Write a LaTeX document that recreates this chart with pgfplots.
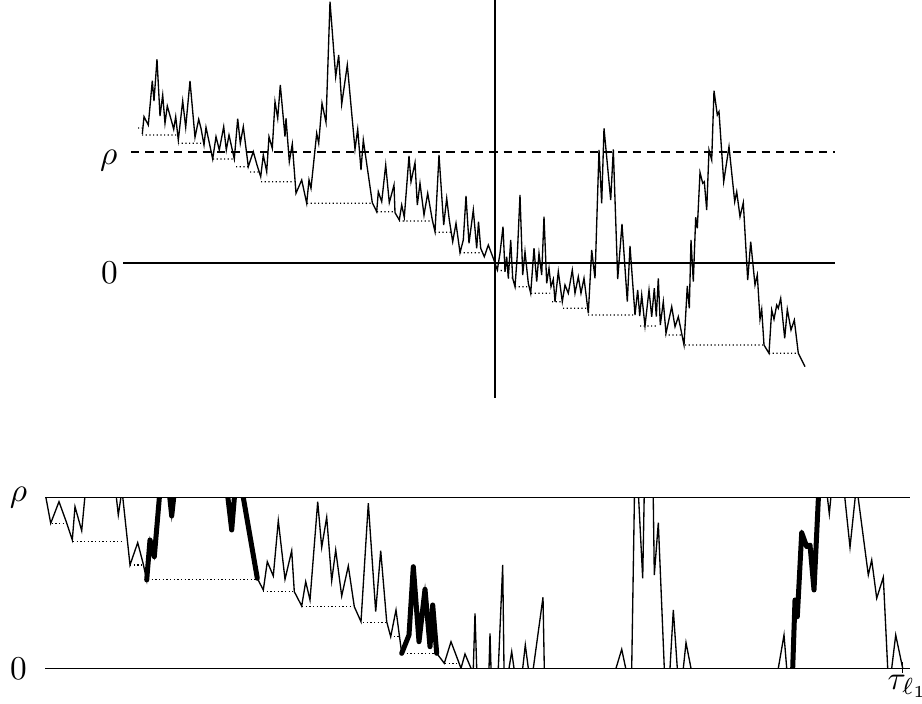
\documentclass[border=0pt]{standalone}
\usepackage{pgfplots}
\pgfplotsset{compat=1.18}

% picture coordinates: 1 unit = 1 pixel of the 922x704 layout, y downwards
\pgfplotsset{
  pix/.style={width=276.6pt, scale only axis, xmin=0, xmax=922,
    y dir=reverse, hide axis, anchor=south west},
  walk/.style={black, line width=0.4pt, line join=miter, no marks},
  refline/.style={black, line width=0.33pt, no marks},
  runmin/.style={black, line width=0.4pt, dash pattern=on 0.35pt off 0.75pt, no marks},
  bold/.style={black, line width=1.5pt, line join=round, line cap=round, no marks},
}

\begin{document}
\begin{tikzpicture}
\useasboundingbox (0,0) rectangle (276.6pt,211.2pt);

% ---------- upper panel (and all labels) ----------
\begin{axis}[pix, height=211.2pt, ymin=0, ymax=704, at={(0,0)}, clip=false,
    unbounded coords=jump]

% reference lines
\addplot[refline] coordinates {(123,263) (835,263)};
\addplot[refline] coordinates {(495,0) (495,398)};
\addplot[refline, dash pattern=on 2.5pt off 1.8pt] coordinates {(131,152) (835,152)};

% the walk
\addplot[walk] coordinates {
(142.3,134)(144,116.7)(148.3,125)(152.3,80.7)(154,101)(157,59.3)(160,116)(162.7,95)
(165,123.3)(167.3,106)(171.7,121.7)(173.7,129.3)(175.7,116.7)(178.3,140)(182.7,101)
(185.7,127.3)(190,81)(195,137.3)(198.7,119.3)(201,128.3)(204,145)(206,127.3)(208.7,140)
(212.7,159)(216,136.7)(219.3,150)(223.7,126.7)(226.3,150)(229,135)(232.3,150)(234.3,159)
(237.7,118.7)(240.3,143.3)(243.3,126.7)(248.3,166.7)(253.3,151.7)(257,165)(260.7,176.7)
(263.3,155)(266.7,171.7)(269,136.7)(272.3,148.3)(275,101.7)(277.7,118.3)(280.3,85)
(285,136.7)(286,118.3)(289.3,161.7)(292.3,144)(296,193.3)(301.7,180)(306.7,203.3)
(309,180)(311,188.3)(316.7,133.3)(318.7,143.3)(322,103.3)(326,122.3)(330,1.7)
(335.7,76.7)(338.7,55)(341.7,104.3)(347.3,65)(355,149.3)(357.7,129.3)(361,170)
(363.3,140)(372.3,202.7)(376.7,211.7)(378.3,191.7)(381.7,201.7)(385.7,165)(389.3,202.7)
(394,185)(395,212.7)(399.3,220)(401.7,205)(404.3,217.3)(409,156)(411,181.7)(415,162.7)
(417.3,205)(420,183.3)(424,215)(427.7,193.3)(432.3,220)(435,231.7)(439,155)(443.7,225)
(446.7,198.3)(449.3,220)(452.7,241.7)(456,223.3)(460,252.7)(463.3,240)(466,196)
(469,243.3)(473.3,210)(476.7,248.3)(478.5,221.7)(480.7,248.3)(484.3,256.7)(488.3,245)
(493.3,258.3)(497.3,270)(500,253.3)(503,226.7)(505,271.7)(506.7,256.7)(508.3,278.3)
(510.7,240)(512.7,278.3)(515,286.7)(517.3,255)(520,195)(522.7,275)(525,251.7)
(528.3,283.3)(530.7,293.3)(534,248.3)(536.7,281.7)(539,253.3)(541.7,275)(544,216.7)
(546.7,283.3)(549,268.3)(551,286.7)(553.3,279.3)(555,301.7)(558.3,271.7)(562.3,301.7)
(565,285)(568.3,293.3)(572.3,270)(575,293.3)(578.3,276.7)(581,293.3)(584,278.3)
(586.7,300)(588.3,313.3)(591.7,250)(595,278.3)(599,150)(601.7,203.3)(604,128.3)
(610.7,200)(613.3,149.3)(617.7,279)(622,224)(627.3,301.7)(630,246)(635,315)(637.7,290)
(639.7,316)(641.7,295)(645,326)(649,290)(651.7,316.7)(654.3,288.3)(656.3,316.7)
(658.3,278.3)(660.3,325)(663.3,301.7)(666,333.3)(671.7,306.7)(675,326.7)(678.3,316.7)
(684,345)(687.3,286)(689.3,308.3)(691,240)(693.3,281.7)(695.7,217.3)(697.3,228.3)
(700,172.5)(702.7,183.3)(704.3,181.7)(706.7,210)(709,150)(711.7,160)(714,90.7)
(717.3,115)(719,111.7)(723.7,181.7)(729,146.7)(734.7,201.7)(736.7,191.7)(740,216.7)
(743.3,202.7)(747.7,280)(750.7,241.7)(755,285)(757.3,275)(760,319.3)(761.7,309.3)
(764,345)(769,353.3)(771.7,310)(774,319.3)(776.7,305)(778.3,308.3)(780.7,298.3)
(784.7,338.3)(787.3,309.3)(791,330)(794.3,320)(798.3,353.3)(805,366.7)
};

% running minimum
\addplot[runmin] coordinates {
(138,128)(142,128)(0,nan)
(142,135)(176,135)(0,nan)
(178,143.3)(204,143.3)(0,nan)
(213,159)(234,159)(0,nan)
(236,166.7)(248,166.7)(0,nan)
(250,172)(259,172)(0,nan)
(261,181.7)(294,181.7)(0,nan)
(307,203.3)(372,203.3)(0,nan)
(377,211.7)(395,211.7)(0,nan)
(399,221)(433,221)(0,nan)
(435,232.3)(452,232.3)(0,nan)
(460,252.7)(482,252.7)(0,nan)
(497,270)(505,271)(0,nan)
(508,278)(514,278)(0,nan)
(515,286.7)(530,286.7)(0,nan)
(531,293.3)(550,293.3)(0,nan)
(552,301.7)(562,301.7)(0,nan)
(563,308.3)(587,308.3)(0,nan)
(588,315)(635,315)(0,nan)
(640,326)(658,326)(0,nan)
(665,335)(682,335)(0,nan)
(685,345)(764,345)(0,nan)
(769,353.3)(798,353.3)
};

% lower panel frame lines
\addplot[refline] coordinates {(45,497.5) (910,497.5)};
\addplot[refline] coordinates {(45,668.3) (910,668.3)};
\addplot[refline] coordinates {(902.7,662) (902.7,673)};

% lower panel running minimum
\addplot[runmin] coordinates {
(51.7,523.3)(66.7,523.3)(0,nan)
(73,541.7)(123,541.7)(0,nan)
(130,565)(143,565)(0,nan)
(148,579.3)(257,579.3)(0,nan)
(263,591.7)(293,591.7)(0,nan)
(302,606.7)(352,606.7)(0,nan)
(363,622.3)(387,622.3)(0,nan)
(390,636.7)(400,636.7)(0,nan)
(403,653.3)(437,653.3)(0,nan)
(445,663.3)(458,663.3)
};

% labels
\node[anchor=base, inner sep=0pt] at (axis cs:108.7,164.3) {$\rho$};
\node[anchor=north, inner sep=0pt] at (axis cs:109.5,261.7) {$0$};
\node[anchor=base, inner sep=0pt] at (axis cs:18.5,502) {$\rho$};
\node[anchor=center, inner sep=0pt] at (axis cs:18.5,668.5) {$0$};
\node[anchor=north west, inner sep=0pt] at (axis cs:887,674) {$\tau_{\ell_1}$};
\end{axis}

% ---------- lower panel: walk clipped between 0 and rho ----------
\begin{axis}[pix, height=51.24pt, ymin=497.5, ymax=668.3, at={(0,10.71pt)}, clip=true]

\addplot[walk] coordinates {
(46,498)(50.7,523.3)(59,501.7)(66.7,523)(72.3,540)(75,506.7)(81.7,530.7)(86,485)
(100,470)(115,485)(118.3,515)(122,490)(130,565)(137.7,542.7)(143,563)(146.7,580)
(150,540)(154.3,556.7)(160,490)(165,480)(169,490)(171.7,516)(174.5,490)(200,470)
(227,490)(231.7,530)(235,490)(240,475)(242,490)(257.3,578.3)(263.3,590)(267.3,561.7)
(273.3,576)(278.3,520.7)(285,579.3)(291.7,550.7)(294.3,591.7)(301.7,606)(305.7,581.7)
(310,600)(317.7,501.7)(321.7,547.3)(326.7,517.3)(331.7,580.7)(335.7,550)(341.7,596)
(348.3,566)(354.3,606.7)(361,621.7)(368.3,503.3)(375.7,611.7)(380.7,550.7)(386.7,621.7)
(390.7,636.7)(396,610)(401.7,653.3)(409,635)(413.3,566.7)(419,641.7)(425,589.3)
(430,646.7)(432.7,605)(436.7,653.3)(444.3,663.3)(451,641.7)(461,668.3)(465,654)
(471,668.3)(472.3,680)(473.3,668.3)(475,613.3)(476.7,668.3)(483,682)(489,668.3)
(490,633.3)(491,668.3)(495,680)(498.3,668.3)(502.7,565)(504,668.3)(506,680)(509,668.3)
(511.7,651.7)(514,668.3)(518,682)(522.7,668.3)(525.3,645)(528.3,668.3)(530,678)
(533.3,668.3)(543,597.3)(544.3,668.3)(560,685)(580,680)(600,690)(616,668.3)
(621.7,649.3)(625.7,668.3)(628,680)(631.7,668.3)(634.7,480)(637.7,480)(642.7,578.3)
(644.5,480)(650,470)(653,480)(654.3,575)(658.3,522.7)(664.3,668.3)(667,680)(670,668.3)
(673.3,610)(677.3,668.3)(680,680)(683.3,668.3)(686,642.7)(691,668.3)(710,690)(740,685)
(770,690)(778.3,668.3)(784,635)(786.7,668.3)(790,680)(792.7,668.3)(795,600)(797.3,616.7)
(801.7,532.7)(806.7,546.7)(810,545)(814,590)(819,485)(822,475)(826,485)(829.3,514)
(832,485)(838,470)(843.5,485)(850,547.3)(856.5,485)(868.3,575)(871.7,560)(876.7,598.3)
(883.3,577.3)(887.7,668.3)(889.5,680)(891.7,668.3)(895.7,635)(902.7,668.3)
};

% bold pieces
\addplot[bold] coordinates {(146.7,580)(150,540)(154.3,556.7)(160,490)};
\addplot[bold] coordinates {(169,490)(171.7,516)(174.5,490)};
\addplot[bold] coordinates {(227,490)(231.7,530)(235,490)};
\addplot[bold] coordinates {(242,490)(257.3,578.3)};
\addplot[bold] coordinates {(401.7,653.3)(409,635)(413.3,566.7)(419,641.7)(425,589.3)
  (430,646.7)(432.7,605)(436.7,653.3)};
\addplot[bold] coordinates {(792.7,668.3)(795,600)(797.3,616.7)(801.7,532.7)
  (806.7,546.7)(810,545)(814,590)(819,485)};
\end{axis}
\end{tikzpicture}
\end{document}
